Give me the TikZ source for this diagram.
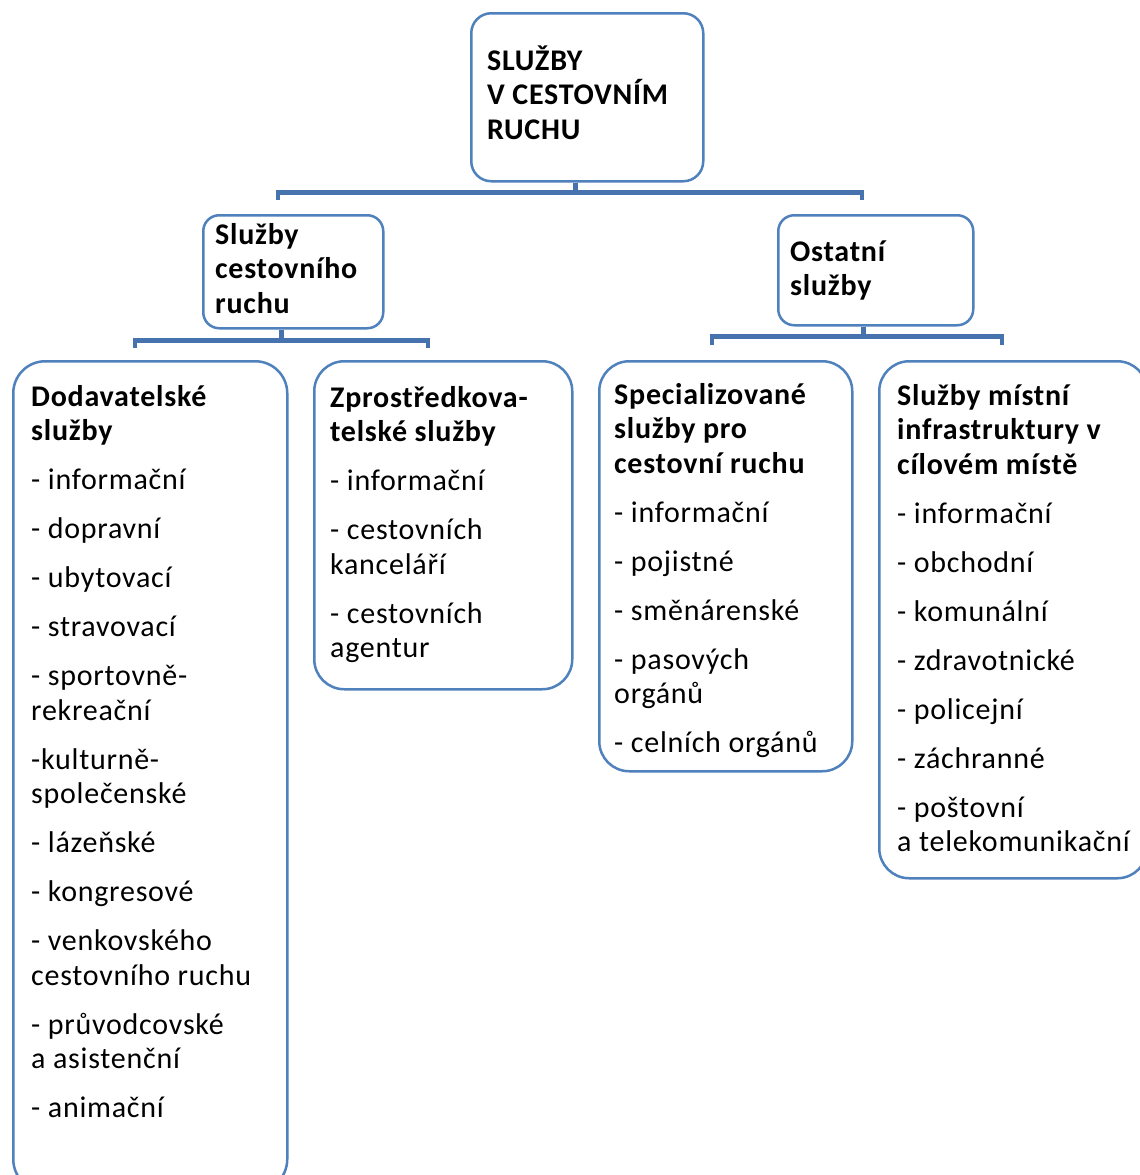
\documentclass[tikz,border=0pt]{standalone}
\usepackage{fontspec}
\setmainfont{Carlito}[LetterSpace=2.5]
\definecolor{boxblue}{HTML}{4F81BD}
\definecolor{linkblue}{HTML}{4672AE}
\tikzset{
  box/.style={draw=boxblue, line width=2.5pt, fill=white, rectangle, anchor=north west, inner sep=0pt},
  txt/.style={anchor=north west, inner sep=0pt, align=left,
    font=\fontsize{30}{34.5}\selectfont},
  link/.style={draw=linkblue, line width=4.5pt}
}
\newcommand{\firstln}{\rule{0pt}{28pt}}
\lineskiplimit=-60pt
\begin{document}
\begin{tikzpicture}[x=1pt,y=-1pt]
\useasboundingbox (0,0) rectangle (1140,1175);
\fill[white] (0,0) rectangle (1140,1175);
\clip (0,0) rectangle (1140,1175);

% boxes
\node[box, minimum width=232pt, minimum height=168pt, rounded corners=20pt] (top) at (470,12) {};
\node[box, minimum width=180pt, minimum height=113pt, rounded corners=16pt] (sc) at (202,214) {};
\node[box, minimum width=195pt, minimum height=110pt, rounded corners=16pt] (os) at (777,214) {};
\node[box, minimum width=274pt, minimum height=830pt, rounded corners=32pt] (dod) at (12,360) {};
\node[box, minimum width=258pt, minimum height=328pt, rounded corners=30pt] (zpr) at (313,360) {};
\node[box, minimum width=253pt, minimum height=410pt, rounded corners=30pt] (spe) at (598,360) {};
\node[box, minimum width=268pt, minimum height=517pt, rounded corners=30pt] (mis) at (878,360) {};

% texts
\node[txt] (ttop) at (487,42) {\firstln\textbf{SLUŽBY}\\\textbf{V CESTOVNÍM}\\\textbf{RUCHU}};
\node[txt] (tsc) at (215,216) {\firstln\textbf{Služby}\\\textbf{cestovního}\\\textbf{ruchu}};
\node[txt] (tos) at (790,233) {\firstln\textbf{Ostatní}\\\textbf{služby}};
\node[txt] (tdod) at (31,378) {\firstln\textbf{Dodavatelské}\\\textbf{služby}\\[14.5pt]
- informační\\[14.5pt]
- dopravní\\[14.5pt]
- ubytovací\\[14.5pt]
- stravovací\\[14.5pt]
- sportovně-\\rekreační\\[14.5pt]
-kulturně-\\společenské\\[14.5pt]
- lázeňské\\[14.5pt]
- kongresové\\[14.5pt]
- venkovského\\cestovního ruchu\\[14.5pt]
- průvodcovské\\a asistenční\\[14.5pt]
- animační};
\node[txt] (tzpr) at (330,379) {\firstln\textbf{Zprostředkova-}\\\textbf{telské služby}\\[14.5pt]
- informační\\[14.5pt]
- cestovních\\kanceláří\\[14.5pt]
- cestovních\\agentur};
\node[txt] (tspe) at (614,376) {\firstln\textbf{Specializované}\\\textbf{služby pro}\\\textbf{cestovní ruchu}\\[14.5pt]
- informační\\[14.5pt]
- pojistné\\[14.5pt]
- směnárenské\\[14.5pt]
- pasových\\orgánů\\[14.5pt]
- celních orgánů};
\node[txt] (tmis) at (897,377) {\firstln\textbf{Služby místní}\\\textbf{infrastruktury v}\\\textbf{cílovém místě}\\[14.5pt]
- informační\\[14.5pt]
- obchodní\\[14.5pt]
- komunální\\[14.5pt]
- zdravotnické\\[14.5pt]
- policejní\\[14.5pt]
- záchranné\\[14.5pt]
- poštovní\\a telekomunikační};

% connectors
\coordinate (cL1) at (278,200);
\coordinate (cR1) at (862,200);
\coordinate (cL2) at (135,348);
\coordinate (cR2) at (428,348);
\coordinate (cL3) at (712,345);
\coordinate (cR3) at (1002,345);
\draw[link] ([xshift=-12pt]top.south) -- ++(0,10) -| (cL1);
\draw[link] ([xshift=-12pt]top.south) -- ++(0,10) -| (cR1);
\draw[link] ([xshift=-12pt]sc.south) -- ++(0,11) -| (cL2);
\draw[link] ([xshift=-12pt]sc.south) -- ++(0,11) -| (cR2);
\draw[link] ([xshift=-12.5pt]os.south) -- ++(0,10) -| (cL3);
\draw[link] ([xshift=-12.5pt]os.south) -- ++(0,10) -| (cR3);
\end{tikzpicture}
\end{document}
